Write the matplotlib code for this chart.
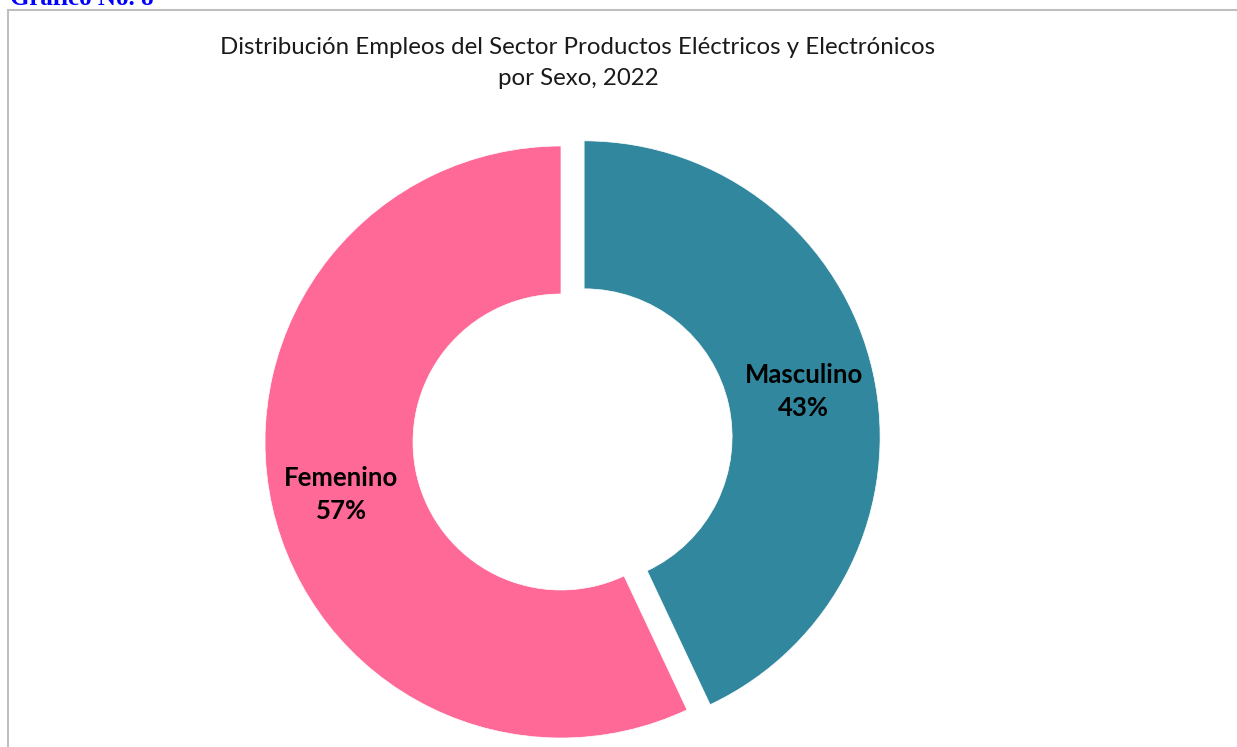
import matplotlib
matplotlib.use("Agg")
import matplotlib.pyplot as plt
import numpy as np
from matplotlib.patches import Rectangle

# data
categories = ["Masculino", "Femenino"]
shares = [43, 57]
colors = ["#31879E", "#FF6998"]
title = "Distribución Empleos del Sector Productos Eléctricos y Electrónicos\npor Sexo, 2022"

W, H = 1237, 747
fig = plt.figure(figsize=(W / 100, H / 100), dpi=100)

# outer frame of the chart object (cut off at bottom/right)
fig.patches.append(Rectangle((8 / W, -0.1), 1.2, (H - 10) / H + 0.1,
                             transform=fig.transFigure, fill=False,
                             edgecolor="#BFBFBF", linewidth=1.5))

# caption above the frame, partly cut off like in the source
fig.text(10 / W, (H - 5) / H, "Gráfico No. 8", color="#0000FF",
         fontsize=18, fontweight="bold", family="Liberation Serif",
         ha="left", va="baseline")

fig.text(578 / W, 1 - 63 / H, title, ha="center", va="center",
         fontsize=17.3, family="Lato", linespacing=1.6, color="#1a1a1a")

# pie axes: centre at (561, 442) px, radius 296 px
R = 296
cx, cy = 561, H - 442
half = 1.5 * R
ax = fig.add_axes([(cx - half) / W, (cy - half) / H, 2 * half / W, 2 * half / H])

wedges, _ = ax.pie(shares, colors=colors, startangle=90, counterclock=False,
                   explode=[0.08, 0], radius=1,
                   wedgeprops=dict(width=0.5, edgecolor="white", linewidth=0.5))
ax.set_xlim(-1.5, 1.5)
ax.set_ylim(-1.5, 1.5)
ax.set_aspect("equal")
ax.axis("off")

for w, name, val in zip(wedges, categories, shares):
    mid = np.deg2rad((w.theta1 + w.theta2) / 2)
    x0, y0 = w.center
    r = 0.76
    ax.text(x0 + r * np.cos(mid), y0 + r * np.sin(mid) - 0.012,
            f"{name}\n{val}%", ha="center", va="center",
            fontsize=18.5, fontweight="bold", family="Lato",
            linespacing=1.42, color="black")

fig.savefig("out.png", dpi=100)
